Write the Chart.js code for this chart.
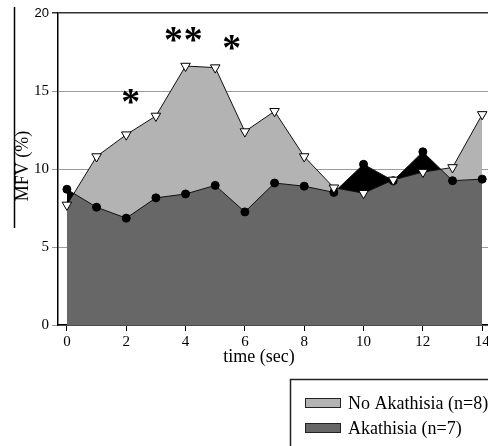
<!DOCTYPE html>
<html>
<head>
<meta charset="utf-8">
<script src="https://cdn.jsdelivr.net/npm/chart.js@4/dist/chart.umd.min.js"></script>
<style>
  html, body { margin: 0; padding: 0; overflow: hidden; background: #fff; }
  #wrap { position: relative; width: 520px; height: 446px; }
</style>
</head>
<body>
<div id="wrap"><canvas id="c"></canvas></div>
<script>
// Time points (sec)
const timeSec = [0, 1, 2, 3, 4, 5, 6, 7, 8, 9, 10, 11, 12, 13, 14];
// Mean flow velocity change (%) per group
const noAkathisia = [7.7, 10.8, 12.2, 13.4, 16.6, 16.5, 12.4, 13.7, 10.8, 8.8, 8.45, 9.3, 9.8, 10.1, 13.5];
const akathisia   = [8.7, 7.55, 6.85, 8.15, 8.4, 8.95, 7.25, 9.1, 8.9, 8.5, 10.3, 9.25, 11.1, 9.25, 9.35];
const seriesLabels = ['No Akathisia (n=8)', 'Akathisia (n=7)'];
const xTickValues = [0, 2, 4, 6, 8, 10, 12, 14];
const yTickValues = [0, 5, 10, 15, 20];
// Significance markers: [time, MFV level, symbol]
const sigMarks = [[1.83, 14.05, '*'], [3.59, 18.64, '*'], [4.26, 18.64, '*'], [5.56, 18.14, '*']];

const LIGHT = '#b3b3b3', DARK = '#676767', SERIF = '"Liberation Serif", "Times New Roman", serif';

const decor = {
  id: 'decor',
  afterDraw(chart) {
    const ctx = chart.ctx, xs = chart.scales.x, ys = chart.scales.y;
    ctx.save();
    // rule to the left of the y title
    ctx.strokeStyle = '#000'; ctx.lineWidth = 1.5;
    ctx.beginPath(); ctx.moveTo(14.5, 7); ctx.lineTo(14.5, 228); ctx.stroke();
    // axis titles
    ctx.fillStyle = '#000';
    ctx.font = '18px ' + SERIF;
    ctx.textAlign = 'center'; ctx.textBaseline = 'middle';
    ctx.save(); ctx.translate(23, 166); ctx.rotate(-Math.PI / 2);
    ctx.fillText('MFV (%)', 0, 0); ctx.restore();
    ctx.fillText('time (sec)', 259, 357);
    // significance asterisks, ink centred on their data position
    sigMarks.forEach(([t, v, s]) => {
      ctx.font = 'bold 40px ' + SERIF;
      const m = ctx.measureText(s);
      const w = m.actualBoundingBoxLeft + m.actualBoundingBoxRight;
      const size = 40 * 17 / w;
      ctx.font = 'bold ' + size.toFixed(1) + 'px ' + SERIF;
      const m2 = ctx.measureText(s);
      const px = xs.getPixelForValue(t), py = ys.getPixelForValue(v);
      ctx.textAlign = 'left'; ctx.textBaseline = 'alphabetic';
      const ox = (m2.actualBoundingBoxRight - m2.actualBoundingBoxLeft) / 2;
      const oy = (m2.actualBoundingBoxAscent - m2.actualBoundingBoxDescent) / 2;
      ctx.fillText(s, px - ox, py + oy);
    });
    // legend box
    ctx.strokeStyle = '#222'; ctx.lineWidth = 1.5;
    ctx.strokeRect(290.5, 379.5, 300, 120);
    const fills = [LIGHT, DARK];
    const rows = [403, 428];
    ctx.font = '18px ' + SERIF; ctx.textAlign = 'left'; ctx.textBaseline = 'middle';
    seriesLabels.forEach((lab, i) => {
      ctx.fillStyle = fills[i];
      ctx.fillRect(305, rows[i] - 4.5, 35, 9);
      ctx.strokeStyle = '#222'; ctx.lineWidth = 1;
      ctx.strokeRect(305.5, rows[i] - 4.5, 35, 9);
      ctx.fillStyle = '#000';
      ctx.fillText(lab, 348, rows[i] + 1);
    });
    ctx.restore();
  }
};

new Chart(document.getElementById('c'), {
  type: 'line',
  data: {
    labels: timeSec,
    datasets: [
      {
        label: seriesLabels[0],
        data: timeSec.map((t, i) => ({ x: t, y: noAkathisia[i] })),
        borderColor: '#111', borderWidth: 1,
        fill: { target: 1, above: LIGHT, below: '#000' },
        pointStyle: 'triangle', rotation: 180, pointRadius: 5.5,
        pointBackgroundColor: '#fff', pointBorderColor: '#000', pointBorderWidth: 1,
        tension: 0
      },
      {
        label: seriesLabels[1],
        data: timeSec.map((t, i) => ({ x: t, y: akathisia[i] })),
        borderColor: '#111', borderWidth: 1,
        fill: { target: 'origin', above: DARK },
        pointStyle: 'circle', pointRadius: 4,
        pointBackgroundColor: '#000', pointBorderColor: '#000', pointBorderWidth: 1,
        tension: 0
      }
    ]
  },
  options: {
    responsive: true, maintainAspectRatio: false, animation: false,
    layout: { padding: { top: 13, right: 20, bottom: 0, left: 0 } },
    plugins: {
      legend: { display: false }, tooltip: { enabled: false },
      filler: { drawTime: 'beforeDatasetsDraw' }
    },
    scales: {
      x: {
        type: 'linear', min: -0.3, max: 14.6,
        afterBuildTicks: s => { s.ticks = xTickValues.map(v => ({ value: v })); },
        afterFit: s => { s.height = 121; },
        border: { color: '#000', width: 1.5 },
        grid: { drawOnChartArea: false, tickLength: 6, color: '#000' },
        ticks: { color: '#000', padding: 2, font: { family: SERIF, size: 15 } }
      },
      y: {
        min: 0, max: 20,
        afterBuildTicks: s => { s.ticks = yTickValues.map(v => ({ value: v })); },
        afterFit: s => { s.width = 58; },
        border: { color: '#000', width: 1.5 },
        grid: {
          tickLength: 6,
          color: c => (c.tick && c.tick.value === 20 ? '#333' : '#9a9a9a'),
          lineWidth: c => (c.tick && c.tick.value === 20 ? 1.5 : 1)
        },
        ticks: {
          color: '#000', padding: 3,
          font: c => (c.tick && c.tick.value === 20
            ? { family: '"Liberation Sans", Arial, sans-serif', size: 13 }
            : { family: SERIF, size: 15 })
        }
      }
    }
  },
  plugins: [decor]
});
</script>
</body>
</html>
